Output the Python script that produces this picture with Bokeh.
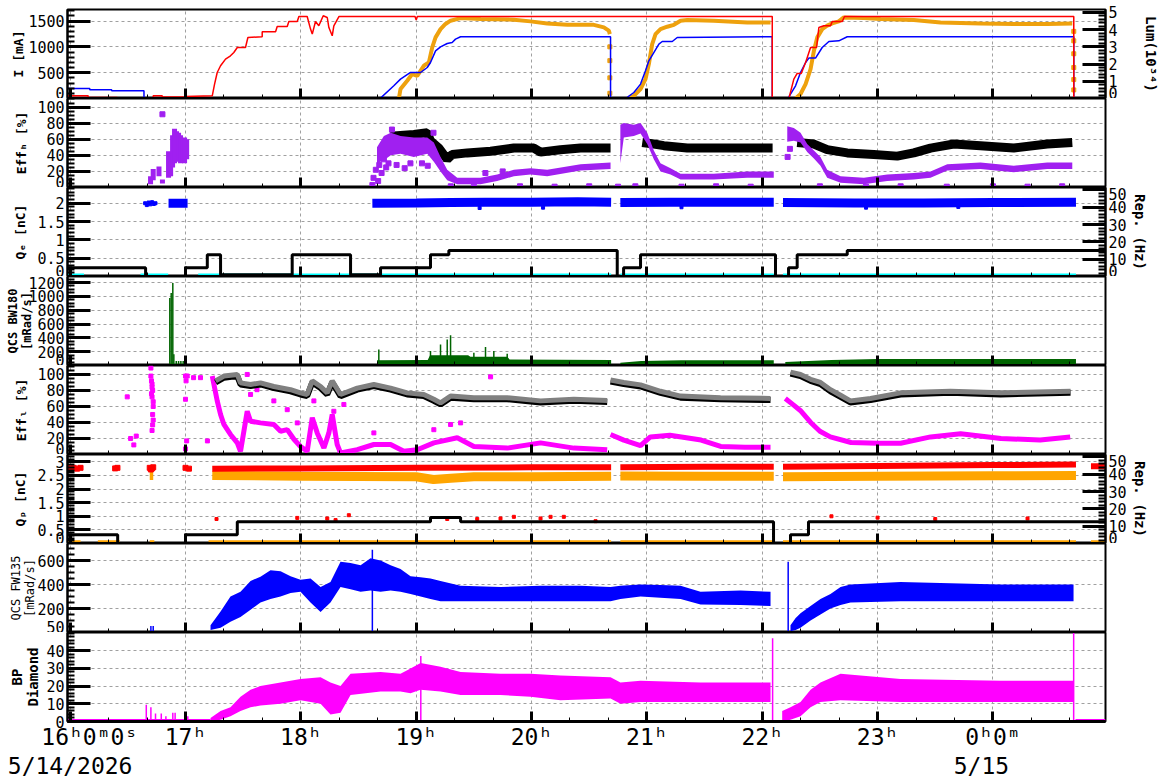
from bokeh.plotting import figure
from bokeh.layouts import column
from bokeh.models import Range1d, LinearAxis, FixedTicker
from bokeh.embed import file_html
from bokeh.resources import INLINE

# ---------------- data (time = hours after 16:00 on 5/14/2026) ----------------
# Panel 1: beam currents [mA] and luminosity [1e34]
red_t = [-0.023, 0.156, 0.156, 0.408, 0.408, 0.72, 0.72, 0.798, 0.798, 1.0, 1.0, 1.232, 1.252, 1.275,
         1.304, 1.347, 1.39, 1.419, 1.449, 1.52, 1.541, 1.665, 1.665, 1.781, 1.795, 1.882, 1.896, 1.969,
         1.983, 2.055, 2.084, 2.099, 2.127, 2.156, 2.194, 2.229, 2.243, 2.272, 2.286, 2.33, 2.99, 3.0,
         3.01, 6.087, 6.087, 6.231, 6.274, 6.303, 6.338, 6.376, 6.419, 6.471, 6.491, 6.534, 6.592, 6.607,
         6.694, 6.713, 8.701, 8.701, 8.976]
red_I = [52, 52, 19, 19, 3, 3, 52, 52, 28, 28, 38, 52, 279, 504,
         634, 763, 827, 891, 988, 988, 1182, 1196, 1293, 1293, 1395, 1395, 1492, 1492,
         1589, 1589, 1345, 1248, 1492, 1409, 1603, 1570, 1376, 1215, 1409, 1589, 1589, 1519,
         1589, 1589, 0, 0, 376, 485, 485, 698, 988, 988, 1376, 1409, 1409, 1492,
         1492, 1589, 1589, 0, 0]
blue_t = [-0.023, 0.17, 0.17, 0.36, 0.36, 0.64, 0.64, 0.70, 2.33, 2.33, 2.691, 2.806, 2.864, 2.951,
          3.038, 3.096, 3.124, 3.168, 3.211, 3.269, 3.312, 3.341, 3.385, 4.685, 4.685, 4.815, 4.887,
          4.945, 4.988, 5.017, 5.06, 5.104, 5.133, 5.22, 5.263, 6.087, 6.087, 6.222, 6.289, 6.332,
          6.376, 6.404, 6.462, 6.52, 6.578, 6.664, 6.737, 8.701, 8.701, 8.976]
blue_I = [194, 194, 169, 169, 149, 149, 0, 13, 13, 0, 8, 246, 376, 504,
          504, 601, 698, 924, 1002, 1066, 1085, 1151, 1196, 1196, 0, 0, 116,
          279, 537, 731, 891, 1054, 1105, 1105, 1182, 1196, 0, 0, 246, 504,
          698, 783, 783, 988, 1105, 1118, 1196, 1196, 0, 0]
lum_t1 = [2.85, 2.864, 2.922, 2.966, 3.009, 3.066, 3.11, 3.139, 3.168, 3.211, 3.254, 3.298, 3.385,
          3.558, 3.847, 3.991, 4.136, 4.31, 4.54, 4.627, 4.67, 4.679]
lum_v1 = [0, 0.55, 1.03, 1.42, 1.32, 1.90, 2.09, 2.97, 3.55, 4.03, 4.33, 4.52, 4.67,
          4.62, 4.58, 4.48, 4.36, 4.28, 4.28, 4.13, 3.94, 3.74]
lum_t2 = [4.83, 4.887, 4.945, 4.988, 5.017, 5.046, 5.075, 5.118, 5.176, 5.234, 5.292, 5.35, 5.58,
          5.87, 6.072]
lum_v2 = [0, 0.16, 0.55, 1.13, 2.0, 3.16, 3.74, 4.03, 4.17, 4.28, 4.52, 4.56, 4.52, 4.42, 4.42]
lum_t3 = [6.289, 6.332, 6.376, 6.419, 6.448, 6.477, 6.52, 6.563, 6.607, 6.664, 6.707, 6.881, 7.025,
          7.314, 7.546, 7.892, 8.181, 8.471, 8.688]
lum_v3 = [0, 0.26, 0.84, 1.71, 2.77, 3.55, 4.03, 4.23, 4.36, 4.48, 4.71, 4.67, 4.62,
          4.56, 4.42, 4.36, 4.33, 4.33, 4.36]
lum_drop_t = [4.679, 4.679, 4.679, 4.679, 8.701, 8.701, 8.701, 8.701, 8.701, 8.701]
lum_drop_v = [3.0, 2.2, 1.2, 0.3, 3.9, 3.35, 2.6, 1.8, 1.1, 0.5]

# Panel 2: Eff_H [%]
effh_k1_t = [2.78, 2.806, 2.98, 3.096, 3.124, 3.197, 3.269, 3.312, 3.443, 3.645, 3.847, 4.02, 4.078,
             4.251, 4.425, 4.685]
effh_k1_v = [63, 64, 66, 68, 58, 49, 35, 41, 43, 45, 49, 49, 44, 47, 49, 49]
effh_k2_t = [4.96, 5.06, 5.147, 5.35, 5.58, 5.87, 6.09]
effh_k2_v = [56, 54, 52, 49, 49, 49, 49]
effh_k3_t = [6.303, 6.448, 6.563, 6.737, 6.967, 7.17, 7.314, 7.459, 7.661, 7.892, 8.181, 8.471, 8.688]
effh_k3_v = [56, 54, 47, 43, 41, 39, 43, 49, 54, 52, 49, 54, 56]
effh_p1_t = [2.66, 2.72, 2.78, 2.864, 2.98, 3.096, 3.153, 3.211, 3.269, 3.356, 3.558, 3.702,
             3.847, 3.991, 4.136, 4.425, 4.685]
effh_p1_lo = [30, 34, 40, 42, 38, 42, 32, 20, 9, 4, 4, 8, 14, 16, 14, 21, 23]
effh_p1_hi = [50, 64, 68, 64, 62, 62, 56, 38, 22, 12, 12, 16, 22, 24, 22, 29, 31]
effh_p2_t = [4.77, 4.80, 4.887, 4.945, 5.003, 5.06, 5.118, 5.205, 5.292, 5.58, 5.87, 6.1]
effh_p2_lo = [30, 62, 64, 67, 54, 35, 20, 16, 10, 10, 12, 12]
effh_p2_hi = [78, 80, 78, 80, 68, 46, 30, 24, 17, 17, 20, 20]
effh_p3_t = [6.217, 6.274, 6.332, 6.39, 6.448, 6.505, 6.563, 6.679, 6.881, 7.084, 7.314, 7.459, 7.604,
             7.892, 8.181, 8.471, 8.688]
effh_p3_lo = [57, 58, 56, 44, 36, 27, 12, 6, 4, 8, 10, 12, 21, 23, 19, 23, 23]
effh_p3_hi = [76, 74, 68, 54, 46, 38, 22, 14, 12, 16, 18, 20, 29, 31, 27, 31, 31]
effh_burst_t = [0.697, 0.72, 0.77, 0.80, 0.853, 0.871, 0.888, 0.905, 0.922, 0.94, 0.957, 0.975, 0.992, 1.01]
effh_burst_lo = [4, 9, 14, 5, 12, 14, 25, 30, 32, 33, 30, 32, 30, 35]
effh_burst_hi = [14, 23, 26, 10, 45, 40, 65, 73, 70, 68, 65, 60, 62, 60]
effh_dot_t = [0.80, 2.62, 2.63, 2.65, 2.67, 2.68, 2.70, 2.72, 2.74, 2.76, 2.79, 2.83, 2.9, 2.95,
              3.05, 3.1, 3.15, 3.3, 3.5, 3.6, 3.75, 3.9, 4.2, 4.5, 4.75, 4.9, 5.3, 5.6, 5.9, 6.22,
              6.24, 6.5, 6.9, 7.2, 7.6, 8.0, 8.3, 8.6]
effh_dot_v = [91, 3, 12, 22, 8, 28, 18, 35, 25, 30, 72, 28, 24, 30,
              30, 27, 68, 1.5, 1, 18, 20, 1.5, 1, 1.5, 1, 1.5, 1, 1.5, 1, 38,
              48, 1.5, 1, 1.5, 1, 1.5, 1, 1.5]

# Panel 3: Q_e [nC] and e- repetition [Hz]
qe_t1 = [2.62, 3.0, 3.3, 3.6, 4.0, 4.4, 4.69]
qe_v1 = [2.0, 2.01, 2.02, 2.03, 2.03, 2.04, 2.03]
qe_t2 = [4.77, 5.2, 5.6, 6.10]
qe_v2 = [2.02, 2.03, 2.03, 2.03]
qe_t3 = [6.18, 6.8, 7.4, 8.0, 8.72]
qe_v3 = [2.02, 2.01, 2.01, 2.02, 2.03]
qe_t0 = [0.853, 1.018]
qe_v0 = [2.0, 2.0]
qe_dot_t = [0.65, 0.665, 0.68, 0.695, 0.71, 0.725, 0.74, 3.55, 4.1, 5.3, 6.9, 7.7]
qe_dot_v = [2.0, 1.95, 2.02, 1.97, 2.03, 1.98, 2.0, 1.87, 1.88, 1.89, 1.88, 1.9]
rep_e_t = [-0.023, 0.654, 0.654, 1.0, 1.0, 1.189, 1.189, 1.304, 1.304, 1.925, 1.925, 2.431, 2.431,
           2.691, 2.691, 3.124, 3.124, 3.283, 3.283, 4.743, 4.743, 4.798, 4.798, 4.945, 4.945, 6.115,
           6.115, 6.228, 6.228, 6.303, 6.303, 6.737, 6.737, 8.976]
rep_e_v = [5, 5, 0, 0, 5, 5, 12.5, 12.5, 1, 1, 12.5, 12.5, 1,
           1, 5, 5, 12.5, 12.5, 15, 15, 0, 0, 5, 5, 12.5, 12.5,
           0, 0, 5, 5, 12.5, 12.5, 15, 15]
qe_low_t0 = [-0.02, 0.61, 1.11, 2.62, 4.77, 6.18]
qe_low_t1 = [0.12, 0.85, 2.62, 4.69, 6.10, 8.72]
qe_low_q = [0.03, 0.03, 0.03, 0.03, 0.03, 0.03]

# Panel 4: QCS BW180 [mRad/s]
bw_t1 = [2.66, 3.1, 3.12, 3.45, 3.47, 3.79, 3.81, 4.69]
bw_h1 = [75, 80, 150, 150, 125, 125, 85, 80]
bw_t2 = [4.77, 4.95, 5.3, 6.1]
bw_h2 = [40, 65, 75, 75]
bw_t3 = [6.2, 6.6, 7.0, 8.72]
bw_h3 = [50, 80, 95, 95]
bw_spk_t = [0.864, 0.876, 0.89, 0.899, 0.92, 0.94, 0.96, 0.98, 1.0, 2.676, 3.124, 3.211, 3.269, 3.298,
            3.5, 3.601, 3.673, 3.789]
bw_spk_v = [976, 1048, 1192, 161, 65, 65, 65, 65, 65, 233, 209, 305, 377, 439,
            184, 266, 209, 170]

# Panel 5: Eff_L [%]
effl_t1 = [1.261, 1.333, 1.449, 1.477, 1.564, 1.65, 1.766, 1.911, 1.997, 2.055, 2.099, 2.171, 2.229,
           2.272, 2.344, 2.489, 2.633, 2.778, 2.922, 3.066, 3.153, 3.211, 3.298, 3.5, 3.789, 4.078,
           4.367, 4.656]
effl_v1 = [92, 98, 100, 89.5, 87.5, 89.5, 85, 81, 77, 75, 92, 85, 77,
           92, 75, 83, 87.5, 83, 77, 75, 69, 64.5, 73, 71, 71, 67,
           69, 67.5]
effl_t2 = [4.685, 4.8, 4.945, 5.118, 5.292, 5.639, 6.072]
effl_v2 = [93, 90, 87, 79, 73, 71, 70]
effl_t3 = [6.245, 6.332, 6.419, 6.505, 6.592, 6.679, 6.765, 6.939, 7.199, 7.632, 8.066, 8.673]
effl_v3 = [103, 100, 94, 90, 81, 74, 67, 70, 77, 79, 77, 79]
effl_m1_t = [1.232, 1.275, 1.304, 1.333, 1.39, 1.449, 1.477, 1.535, 1.564, 1.65, 1.766, 1.824, 1.882,
             1.94, 1.997, 2.055, 2.099, 2.142, 2.2, 2.243, 2.272, 2.315, 2.344, 2.489, 2.633, 2.778,
             2.893, 3.009, 3.153, 3.356, 3.5, 3.789, 4.078, 4.367, 4.656]
effl_m1_v = [98, 67, 50, 37.5, 25, 14.5, 4, 54, 41.6, 39.5, 37.5, 29, 31,
             19, 10, 4, 46, 27, 8, 27, 50, 12.5, 2, 6, 12.5, 12.5,
             4, 6, 14.5, 21, 10, 8, 14.5, 8, 6]
effl_m2_t = [4.685, 4.8, 4.945, 5.03, 5.2, 5.47, 5.64, 5.85, 6.072]
effl_m2_v = [25, 18, 11, 22, 24, 18, 10, 9, 9]
effl_m3_t = [6.2, 6.27, 6.33, 6.42, 6.5, 6.59, 6.77, 7.0, 7.2, 7.46, 7.72, 8.07, 8.41, 8.67]
effl_m3_v = [70, 62, 55, 40, 29, 22, 15, 14, 14, 22, 26, 20, 18, 22]
effl_dot_t = [0.495, 0.524, 0.552, 0.573, 0.70, 0.70, 0.705, 0.71, 0.71, 0.715, 0.705, 0.71, 0.72,
              0.72, 0.715, 0.72, 0.715, 0.71, 1.0, 1.005, 1.0, 1.01, 1.0]
effl_dot_v = [72, 20, 12, 23, 108, 98, 92, 88, 84, 80, 76, 72, 66,
              60, 50, 43, 37, 30, 98, 92, 69, 17, 7]
effl_out_t = [1.015, 1.07, 1.13, 1.19, 1.535, 1.564, 1.62, 1.766, 1.882, 1.969, 2.113, 2.286, 2.373,
              2.633, 3.153, 3.298, 3.385, 3.645]
effl_out_v = [98, 96, 96, 17, 100, 75, 81, 67, 56, 39.5, 67, 54, 62.5, 27, 31, 37.5, 39.5, 97]

# Panel 6: Q_p [nC] and p+ repetition [Hz]
qp_r1_t = [1.232, 2.0, 3.0, 4.0, 4.69]
qp_r1_v = [2.75, 2.76, 2.78, 2.80, 2.80]
qp_r2_t = [4.77, 5.5, 6.1]
qp_r2_v = [2.80, 2.82, 2.82]
qp_r3_t = [6.18, 7.0, 8.0, 8.72]
qp_r3_v = [2.82, 2.85, 2.88, 2.90]
qp_r4_t = [8.85, 8.976]
qp_r4_v = [2.84, 2.84]
qp_rdot_t = [-0.02, 0.0, 0.03, 0.06, 0.09, 0.39, 0.41, 0.69, 0.70, 0.71, 0.72, 1.0, 1.03]
qp_rdot_v = [2.78, 2.72, 2.78, 2.75, 2.78, 2.76, 2.78, 2.78, 2.72, 2.76, 2.8, 2.78, 2.75]
qp_o1_t = [1.232, 2.0, 3.0, 3.15, 3.3, 3.5, 4.0, 4.69]
qp_o1_v = [2.50, 2.47, 2.45, 2.35, 2.40, 2.45, 2.45, 2.47]
qp_o2_t = [4.77, 5.5, 6.1]
qp_o2_v = [2.48, 2.47, 2.47]
qp_o3_t = [6.18, 7.0, 8.0, 8.72]
qp_o3_v = [2.45, 2.47, 2.49, 2.50]
qp_o0_t = [0.69, 0.72]
qp_o0_v = [2.5, 2.5]
qp_low_t0 = [-0.023, 0.24, 0.69, 1.2, 4.77, 6.18, 8.85]
qp_low_t1 = [0.09, 0.43, 0.73, 4.69, 6.1, 8.72, 8.976]
qp_low_q = [0.05, 0.05, 0.05, 0.05, 0.05, 0.05, 0.05]
qp_red_mid_t = [1.269, 1.969, 2.229, 2.301, 2.416, 3.269, 3.529, 3.731, 3.847, 4.078, 4.165, 4.28, 4.555,
                6.6, 7.0, 7.5, 8.3]
qp_red_mid_v = [0.9, 0.94, 0.92, 0.86, 1.04, 0.9, 0.9, 0.92, 0.98, 0.92, 0.98, 0.98, 0.82,
                1.0, 0.95, 0.9, 0.92]
rep_p_t = [-0.023, 0.412, 0.412, 1.0, 1.0, 1.449, 1.449, 3.124, 3.124, 3.385, 3.385, 6.098, 6.098,
           6.245, 6.245, 6.401, 6.401, 8.976]
rep_p_v = [5, 5, 0, 0, 5, 5, 12.5, 12.5, 15, 15, 12.5, 12.5, 0,
           0, 5, 5, 12.5, 12.5]

# Panel 7: QCS FW135 [mRad/s]
fw_t = [1.217, 1.304, 1.39, 1.477, 1.564, 1.65, 1.737, 1.824, 1.911, 1.997, 2.084, 2.171, 2.257,
        2.344, 2.431, 2.518, 2.604, 2.691, 2.778, 2.864, 2.951, 3.038, 3.124, 3.211, 3.385, 3.731,
        4.078, 4.425, 4.685, 4.771, 4.945, 5.118, 5.292, 5.465, 5.812, 6.072]
fw_lo = [20, 40, 90, 130, 190, 250, 280, 300, 330, 340, 250, 170, 250,
         380, 360, 340, 350, 340, 350, 340, 320, 300, 280, 260, 260, 260,
         260, 260, 260, 280, 300, 290, 280, 233, 230, 220]
fw_hi = [60, 175, 300, 340, 430, 465, 520, 510, 470, 440, 450, 380, 420,
         590, 580, 560, 620, 600, 560, 530, 470, 460, 450, 430, 390, 380,
         390, 390, 380, 390, 400, 395, 390, 340, 350, 340]
fw3_t = [6.245, 6.29, 6.332, 6.419, 6.505, 6.592, 6.679, 6.765, 7.199, 7.632, 8.066, 8.5, 8.699]
fw3_lo = [10, 20, 40, 100, 150, 200, 230, 250, 260, 260, 260, 260, 260]
fw3_hi = [60, 120, 160, 220, 280, 320, 380, 400, 420, 410, 400, 400, 400]
fw_spk_t = [0.70, 0.72, 1.0, 2.62, 6.225]
fw_spk_v = [55, 55, 50, 690, 590]
fw_base_t = [0.18, 1.217]
fw_base_v = [3, 3]

# Panel 8: BP Diamond
bp_t = [1.217, 1.304, 1.39, 1.477, 1.564, 1.65, 1.824, 1.997, 2.171, 2.257, 2.344, 2.431, 2.691,
        2.864, 2.951, 3.038, 3.211, 3.385, 3.731, 3.991, 4.251, 4.685, 4.771, 4.945, 5.465, 6.072]
bp_lo = [0, 1, 3, 6, 8, 9, 10, 12, 10, 4, 5, 15, 17,
         17, 16, 18, 17, 15, 15, 14, 12, 13, 10, 11, 11, 11]
bp_hi = [2, 6, 8, 14, 18, 20, 22, 24, 25, 22, 20, 27, 28,
         27, 30, 33, 31, 28, 27, 27, 26, 25, 22, 23, 22, 22]
bp3_t = [6.173, 6.245, 6.332, 6.419, 6.505, 6.679, 7.199, 8.066, 8.699]
bp3_lo = [0, 1, 3, 8, 11, 12, 11, 11, 11]
bp3_hi = [6, 8, 11, 18, 22, 27, 24, 23, 23]
bp_spk_t = [0.66, 0.70, 0.74, 0.79, 0.83, 0.89, 0.91, 1.02, 3.04, 6.09, 8.70]
bp_spk_v = [9.5, 8, 4.5, 4.5, 3, 5, 5, 3, 37, 47, 50]
bp_base_t0 = [-0.023, 8.716]
bp_base_t1 = [1.217, 8.976]
bp_base_v = [0.8, 0.8]

# axis ticks / labels
HOURS = [0, 1, 2, 3, 4, 5, 6, 7, 8]
HOUR_LABEL_POS = [0.17, 1, 2, 3, 4, 5, 6, 7, 8]
HOUR_LABELS = ["16ʰ0ᵐ0ˢ", "17ʰ", "18ʰ", "19ʰ", "20ʰ", "21ʰ", "22ʰ", "23ʰ", "0ʰ0ᵐ"]
DATE_POS = [0, 7.9]
DATE_LABELS = ["5/14/2026", "5/15"]

# ---------------- styling helpers ----------------
X_RANGE = Range1d(-0.023, 8.976)
MINOR_X = [i / 3 for i in range(0, 27)]
FONT = "DejaVu Sans Mono"
GRID = "#a0a0a0"


def steps(a, b, d):
    out = []
    v = a
    while v <= b + 1e-9:
        out.append(round(v, 6))
        v += d
    return out


def style_y(ax, label="", size="13px", bold=True, standoff=5):
    ax.major_tick_in = 23
    ax.major_tick_out = 0
    ax.minor_tick_in = 7
    ax.minor_tick_out = 0
    ax.major_tick_line_width = 3
    ax.minor_tick_line_width = 2
    ax.axis_line_width = 2
    ax.major_label_text_font = FONT
    ax.major_label_text_font_size = "15px"
    ax.major_label_standoff = 3
    ax.major_label_text_color = "black"
    ax.axis_label = label
    ax.axis_label_text_font = FONT
    ax.axis_label_text_font_size = size
    ax.axis_label_text_font_style = "bold" if bold else "normal"
    ax.axis_label_text_color = "black"
    ax.axis_label_text_line_height = 1.0
    ax.axis_label_standoff = standoff


def make_panel(height, yr, majors, minors, label, standoff, size="13px", bold=True,
               top=0, bottom=0):
    p = figure(width=1172, height=height, x_range=X_RANGE, y_range=Range1d(*yr),
               output_backend="svg", toolbar_location=None, title=None,
               min_border_left=67, min_border_right=67, min_border_top=top,
               min_border_bottom=bottom)
    p.outline_line_color = "black"
    p.outline_line_width = 2
    p.background_fill_color = "white"
    p.border_fill_color = "white"
    xt = FixedTicker(ticks=HOURS, minor_ticks=MINOR_X)
    xa = p.xaxis[0]
    xa.ticker = xt
    xa.major_label_overrides = {h: "" for h in HOURS}
    xa.major_label_text_font_size = "1px"
    xa.major_label_standoff = 0
    xa.major_tick_in = 10
    xa.major_tick_out = 0
    xa.minor_tick_in = 4
    xa.minor_tick_out = 0
    xa.axis_line_width = 3
    xa.major_tick_line_width = 3
    xa.minor_tick_line_width = 1
    yt = FixedTicker(ticks=majors, minor_ticks=minors)
    ya = p.yaxis[0]
    ya.ticker = yt
    style_y(ya, label, size, bold, standoff)
    p.xgrid.ticker = xt
    p.ygrid.ticker = yt
    for g in (p.xgrid[0], p.ygrid[0]):
        g.grid_line_color = GRID
        g.grid_line_dash = "3 3"
        g.grid_line_width = 1
    return p


def right_axis(p, name, yr, majors, minors, label, standoff):
    p.extra_y_ranges = {name: Range1d(*yr)}
    ra = LinearAxis(y_range_name=name, ticker=FixedTicker(ticks=majors, minor_ticks=minors))
    style_y(ra, label, "14px", True, standoff)
    p.add_layout(ra, "right")


def label_axis(p, pos, texts, standoff):
    ax = LinearAxis(ticker=FixedTicker(ticks=pos),
                    major_label_overrides=dict(zip(pos, texts)))
    ax.major_tick_in = 0
    ax.major_tick_out = 0
    ax.minor_tick_in = 0
    ax.minor_tick_out = 0
    ax.axis_line_color = None
    ax.major_tick_line_color = None
    ax.minor_tick_line_color = None
    ax.major_label_text_font = FONT
    ax.major_label_text_font_size = "23px"
    ax.major_label_text_color = "black"
    ax.major_label_standoff = standoff
    p.add_layout(ax, "below")


RED, BLUE, ORANGE, PURPLE = "#ff0000", "#0000ff", "#eea10d", "#a020f0"
CYAN, GREEN, MAGENTA, GRAY, QPORANGE = "#00ffff", "#006400", "#ff00ff", "#808080", "#ffa500"

# ---------------- panel 1 ----------------
p1 = make_panel(98, (0, 1725), [0, 500, 1000, 1500], steps(0, 1700, 100), "I [mA]", -1, top=9)
right_axis(p1, "lum", (0, 5.17), [0, 1, 2, 3, 4, 5], steps(0, 5.1, 0.2), "Lum(10³⁴)", 22)
p1.line(lum_t1, lum_v1, y_range_name="lum", color=ORANGE, line_width=4)
p1.line(lum_t2, lum_v2, y_range_name="lum", color=ORANGE, line_width=4)
p1.line(lum_t3, lum_v3, y_range_name="lum", color=ORANGE, line_width=4)
p1.scatter(lum_drop_t, lum_drop_v, y_range_name="lum", marker="square", size=4, color=ORANGE)
p1.line(blue_t, blue_I, color=BLUE, line_width=1.5)
p1.line(red_t, red_I, color=RED, line_width=1.5)

# ---------------- panel 2 ----------------
p2 = make_panel(89, (0, 110.6), [0, 20, 40, 60, 80, 100], steps(0, 110, 5), "Effₕ [%]", 5)
p2.line(effh_k1_t, effh_k1_v, color="black", line_width=9)
p2.line(effh_k2_t, effh_k2_v, color="black", line_width=9)
p2.line(effh_k3_t, effh_k3_v, color="black", line_width=9)
p2.varea(effh_p1_t, effh_p1_lo, effh_p1_hi, color=PURPLE)
p2.varea(effh_p2_t, effh_p2_lo, effh_p2_hi, color=PURPLE)
p2.varea(effh_p3_t, effh_p3_lo, effh_p3_hi, color=PURPLE)
p2.segment(effh_burst_t, effh_burst_lo, effh_burst_t, effh_burst_hi, color=PURPLE, line_width=5)
p2.scatter(effh_dot_t, effh_dot_v, marker="square", size=5, color=PURPLE)

# ---------------- panel 3 ----------------
p3 = make_panel(89, (0, 2.43), [0, 0.5, 1, 1.5, 2], steps(0, 2.4, 0.1), "Qₑ [nC]", 6)
right_axis(p3, "rep", (0, 51.4), [0, 10, 20, 30, 40, 50], steps(0, 50, 2), "Rep. (Hz)", 2)
for tt, vv in ((qe_t0, qe_v0), (qe_t1, qe_v1), (qe_t2, qe_v2), (qe_t3, qe_v3)):
    p3.line(tt, vv, color=BLUE, line_width=9)
p3.scatter(qe_dot_t, qe_dot_v, marker="square", size=3, color=BLUE)
p3.segment(qe_low_t0, qe_low_q, qe_low_t1, qe_low_q, color=CYAN, line_width=4)
p3.line(rep_e_t, rep_e_v, y_range_name="rep", color="black", line_width=3)

# ---------------- panel 4 ----------------
p4 = make_panel(89, (0, 1287), [0, 200, 400, 600, 800, 1000, 1200], steps(0, 1250, 50),
                "QCS BW180\n[mRad/s]", -9, size="12px")
p4.varea(bw_t1, [0] * len(bw_t1), bw_h1, color=GREEN)
p4.varea(bw_t2, [0] * len(bw_t2), bw_h2, color=GREEN)
p4.varea(bw_t3, [0] * len(bw_t3), bw_h3, color=GREEN)
p4.segment(bw_spk_t, [0] * len(bw_spk_t), bw_spk_t, bw_spk_v, color=GREEN, line_width=1.5)

# ---------------- panel 5 ----------------
p5 = make_panel(89, (0, 111.2), [0, 20, 40, 60, 80, 100], steps(0, 110, 5), "Effₗ [%]", 5)
for tt, vv in ((effl_m1_t, effl_m1_v), (effl_m2_t, effl_m2_v), (effl_m3_t, effl_m3_v)):
    p5.line(tt, vv, color=MAGENTA, line_width=5)
p5.scatter(effl_dot_t, effl_dot_v, marker="square", size=4, color=MAGENTA)
p5.scatter(effl_out_t, effl_out_v, marker="square", size=4, color=MAGENTA)
for tt, vv in ((effl_t1, effl_v1), (effl_t2, effl_v2), (effl_t3, effl_v3)):
    p5.line(tt, [v - 2 for v in vv], color="black", line_width=6)
    p5.line(tt, vv, color=GRAY, line_width=5)

# ---------------- panel 6 ----------------
p6 = make_panel(89, (0, 3.27), [0, 0.5, 1, 1.5, 2, 2.5, 3], steps(0, 3.2, 0.1), "Qₚ [nC]", 6)
right_axis(p6, "rep", (0, 51.4), [0, 10, 20, 30, 40, 50], steps(0, 50, 2), "Rep. (Hz)", 2)
for tt, vv in ((qp_o0_t, qp_o0_v), (qp_o1_t, qp_o1_v), (qp_o2_t, qp_o2_v), (qp_o3_t, qp_o3_v)):
    p6.line(tt, vv, color=QPORANGE, line_width=9)
for tt, vv in ((qp_r1_t, qp_r1_v), (qp_r2_t, qp_r2_v), (qp_r3_t, qp_r3_v), (qp_r4_t, qp_r4_v)):
    p6.line(tt, vv, color=RED, line_width=6)
p6.scatter(qp_rdot_t, qp_rdot_v, marker="square", size=5, color=RED)
p6.scatter(qp_red_mid_t, qp_red_mid_v, marker="square", size=3, color=RED)
p6.segment(qp_low_t0, qp_low_q, qp_low_t1, qp_low_q, color=QPORANGE, line_width=4)
p6.line(rep_p_t, rep_p_v, y_range_name="rep", color="black", line_width=3)

# ---------------- panel 7 ----------------
p7 = make_panel(89, (0, 742), [0, 200, 400, 600], steps(0, 700, 50),
                "QCS FW135\n[mRad/s]", -3, size="12px", bold=False)
p7.yaxis[0].major_label_overrides = {0: "50"}
p7.varea(fw_t, fw_lo, fw_hi, color=BLUE)
p7.varea(fw3_t, fw3_lo, fw3_hi, color=BLUE)
p7.segment(fw_spk_t, [0] * len(fw_spk_t), fw_spk_t, fw_spk_v, color=BLUE, line_width=1.5)
p7.line(fw_base_t, fw_base_v, color=BLUE, line_width=1.5)

# ---------------- panel 8 ----------------
p8 = make_panel(150, (0, 50.3), [0, 10, 20, 30, 40], steps(0, 50, 2),
                "BP\nDiamond", 2, size="14px", bottom=61)
p8.varea(bp_t, bp_lo, bp_hi, color=MAGENTA)
p8.varea(bp3_t, bp3_lo, bp3_hi, color=MAGENTA)
p8.segment(bp_spk_t, [0] * len(bp_spk_t), bp_spk_t, bp_spk_v, color=MAGENTA, line_width=1.5)
p8.segment(bp_base_t0, bp_base_v, bp_base_t1, bp_base_v, color=MAGENTA, line_width=2)
label_axis(p8, HOUR_LABEL_POS, HOUR_LABELS, 2)
label_axis(p8, DATE_POS, DATE_LABELS, 0)

layout = column(p1, p2, p3, p4, p5, p6, p7, p8, spacing=0)
open("out.html", "w").write(file_html(layout, INLINE))
